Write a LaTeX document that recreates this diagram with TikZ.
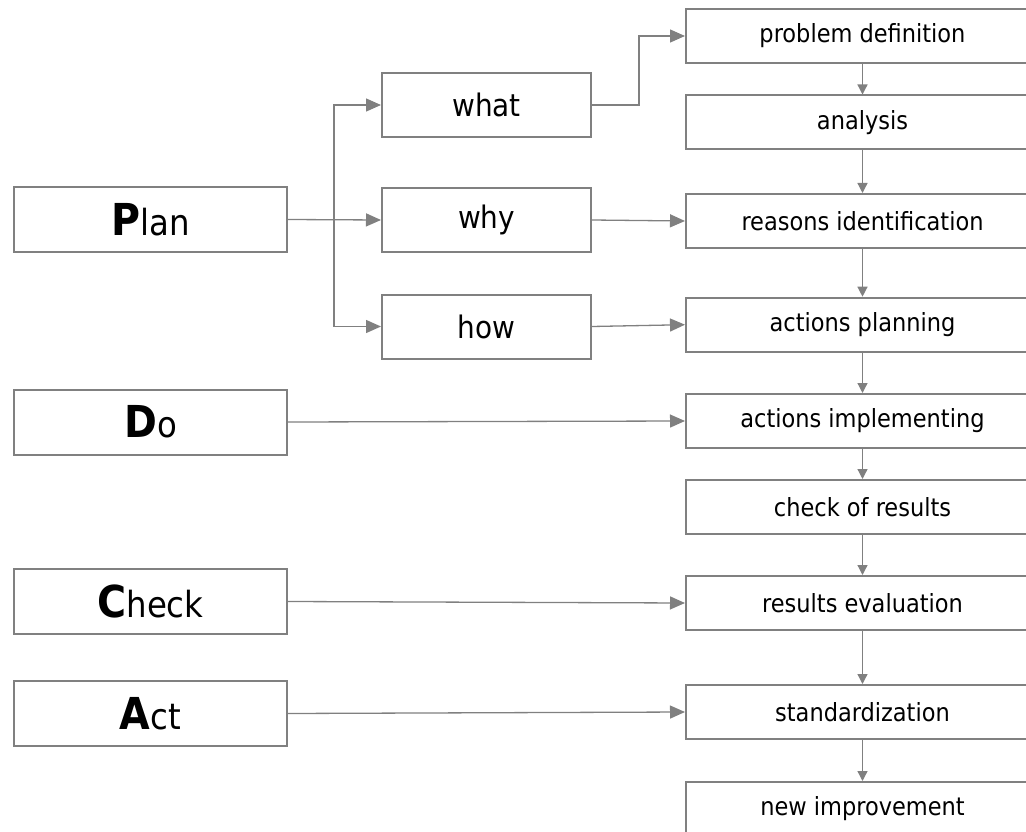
\documentclass[tikz,border=0pt]{standalone}
\usepackage{fontspec}
\setmainfont{DejaVu Sans Condensed}
\usetikzlibrary{arrows.meta}
\definecolor{linegray}{RGB}{128,128,128}
\tikzset{
  box/.style={draw=linegray, line width=2pt, fill=white, inner sep=0pt, text=black},
  phasebox/.style={box, minimum width=273pt, minimum height=65pt},
  askbox/.style={box, minimum width=209pt, minimum height=64pt, font=\fontsize{31}{31}\selectfont},
  stepbox/.style={box, minimum width=353pt, minimum height=54pt, font=\fontsize{25}{25}\selectfont},
  conn/.style={draw=linegray, line width=1.3pt, -{Triangle[length=15pt,width=13pt]}},
  down/.style={draw=linegray, line width=1.3pt, -{Triangle[length=10pt,width=10pt]}}
}
\newcommand{\phase}[2]{{\fontsize{44}{44}\selectfont\bfseries #1}{\fontsize{36}{36}\selectfont #2}}
\begin{document}
\begin{tikzpicture}[x=1pt, y=-1pt]
\useasboundingbox (0,0) rectangle (1026,832);
\clip (0,0) rectangle (1026,832);

% PDCA phases
\node[phasebox] (plan)  at (150.5,219.5) {\phase{P}{lan}};
\node[phasebox] (do)    at (150.5,422)   {\phase{D}{o}};
\node[phasebox] (check) at (150.5,601.5) {\phase{C}{heck}};
\node[phasebox] (act)   at (150.5,713.5) {\phase{A}{ct}};

% planning questions
\node[askbox] (what) at (486.5,105)   {what};
\node[askbox] (why)  at (486.5,220)   {why};
\node[askbox] (how)  at (486.5,326.5) {how};

% improvement steps
\node[stepbox] (pd) at (862.5,36)    {problem definition};
\node[stepbox] (an) at (862.5,122.5) {analysis};
\node[stepbox] (ri) at (862.5,221)   {reasons identification};
\node[stepbox] (ap) at (862.5,324.7) {actions planning};
\node[stepbox] (ai) at (862.5,421)   {actions implementing};
\node[stepbox] (cr) at (862.5,507)   {check of results};
\node[stepbox] (re) at (862.5,603)   {results evaluation};
\node[stepbox] (st) at (862.5,712)   {standardization};
\node[stepbox] (ni) at (862.5,809)   {new improvement};

% branching of Plan
\coordinate (jn) at (334,219.5);
\coordinate (wx) at (639,0);
\draw[conn] (plan.east) -- (why.west);
\draw[conn] (jn) |- (what.west);
\draw[conn] (jn) |- (how.west);

% questions to steps
\draw[conn] (what.east) -- (what.east -| wx) |- (pd.west);
\draw[conn] (why.east) -- (ri.west);
\draw[conn] (how.east) -- (ap.west);

% phases to steps
\draw[conn] (do.east) -- (ai.west);
\draw[conn] (check.east) -- (re.west);
\draw[conn] (act.east) -- (st.west);

% step chain
\foreach \a/\b in {pd/an, an/ri, ri/ap, ap/ai, ai/cr, cr/re, re/st, st/ni}
  \draw[down] (\a.south) -- (\b.north);
\end{tikzpicture}
\end{document}
